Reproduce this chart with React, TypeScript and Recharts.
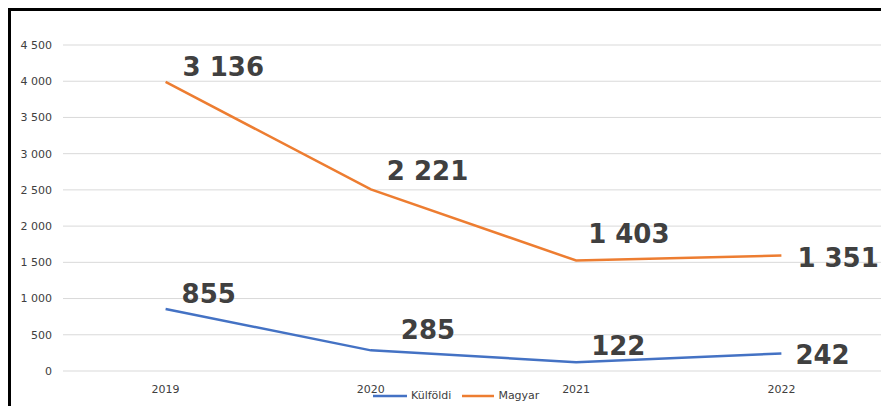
import React from "react";
import { ComposedChart, Area, XAxis, YAxis, CartesianGrid, LabelList } from "recharts";

const years = ["2019", "2020", "2021", "2022"];
const kulfoldi = [855, 285, 122, 242];
const magyar = [3136, 2221, 1403, 1351];
const yTicks = [0, 500, 1000, 1500, 2000, 2500, 3000, 3500, 4000, 4500];

const data = years.map((y, i) => ({ year: y, kulfoldi: kulfoldi[i], magyar: magyar[i] }));

const BLUE = "#4472C4";
const ORANGE = "#ED7D31";
const FONT = "'DejaVu Sans', sans-serif";

const magyarDx = [17, 16, 12, 16];
const magyarDy = [-15, -19, -27, 2];
const kulfoldiDx = [16, 30, 15, 14];
const kulfoldiDy = [-16, -21, -17, 1];

const fmt = (v: number) => {
  const s = String(v);
  return s.length > 3 ? s.slice(0, s.length - 3) + " " + s.slice(s.length - 3) : s;
};

const makeLabel = (values: number[], dxs: number[], dys: number[]) => (props: any) => {
  const { x, y, index } = props;
  if (x == null || y == null) return null;
  return (
    <text
      x={x + dxs[index]}
      y={y + dys[index] + 9.5}
      fontFamily={FONT}
      fontWeight="bold"
      fontSize={26}
      fill="#404040"
      textAnchor="start"
    >
      {fmt(values[index])}
    </text>
  );
};

export default function App() {
  return (
    <div
      style={{
        position: "relative",
        width: 881,
        height: 398,
        borderTop: "3px solid #000",
        borderLeft: "3px solid #000",
        boxSizing: "border-box",
        overflow: "visible",
        background: "#fff",
      }}
    >
      <div style={{ position: "absolute", left: -3, top: -3 }}>
        <ComposedChart
          width={881}
          height={398}
          data={data}
          margin={{ top: 37, right: 5, bottom: 5, left: 10 }}
        >
          <CartesianGrid vertical={false} stroke="#d9d9d9" strokeWidth={1} />
          <XAxis
            dataKey="year"
            axisLine={false}
            tickLine={false}
            tickSize={6}
            tickMargin={8}
            height={30}
            padding={{ left: 102.6, right: 102.6 }}
            tick={{ fontFamily: FONT, fontSize: 11, fill: "#404040" }}
          />
          <YAxis
            domain={[0, 4500]}
            ticks={yTicks}
            axisLine={false}
            tickLine={false}
            tickSize={6}
            tickMargin={5}
            width={45}
            tickFormatter={fmt}
            tick={{ fontFamily: FONT, fontSize: 11, fill: "#404040" }}
          />
          <Area
            type="linear"
            dataKey="kulfoldi"
            stackId="s"
            stroke={BLUE}
            strokeWidth={2.5}
            fill="none"
            fillOpacity={0}
            dot={false}
            activeDot={false}
            isAnimationActive={false}
          >
            <LabelList content={makeLabel(kulfoldi, kulfoldiDx, kulfoldiDy)} />
          </Area>
          <Area
            type="linear"
            dataKey="magyar"
            stackId="s"
            stroke={ORANGE}
            strokeWidth={2.5}
            fill="none"
            fillOpacity={0}
            dot={false}
            activeDot={false}
            isAnimationActive={false}
          >
            <LabelList content={makeLabel(magyar, magyarDx, magyarDy)} />
          </Area>
        </ComposedChart>
      </div>
      <div
        style={{
          position: "absolute",
          left: 362,
          top: 378,
          display: "flex",
          alignItems: "center",
          fontFamily: FONT,
          fontSize: 11,
          color: "#404040",
          whiteSpace: "nowrap",
        }}
      >
        <svg width={34} height={6} style={{ display: "block" }}>
          <line x1={0} y1={3} x2={34} y2={3} stroke={BLUE} strokeWidth={2.5} />
        </svg>
        <span style={{ marginLeft: 4 }}>Külföldi</span>
        <svg width={32} height={6} style={{ display: "block", marginLeft: 11 }}>
          <line x1={0} y1={3} x2={32} y2={3} stroke={ORANGE} strokeWidth={2.5} />
        </svg>
        <span style={{ marginLeft: 4 }}>Magyar</span>
      </div>
    </div>
  );
}
